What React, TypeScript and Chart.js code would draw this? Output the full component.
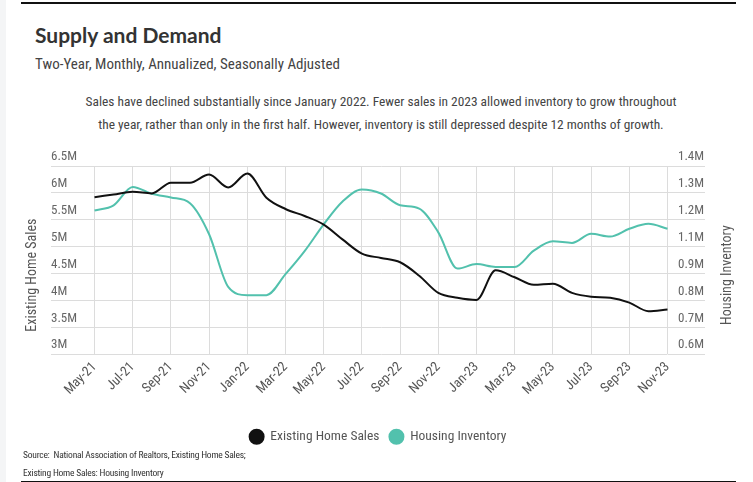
import React, { useEffect, useRef } from 'react';
import { Chart, registerables } from 'chart.js';

Chart.register(...registerables);

const months = ['May-21','Jun-21','Jul-21','Aug-21','Sep-21','Oct-21','Nov-21','Dec-21','Jan-22','Feb-22','Mar-22','Apr-22','May-22','Jun-22','Jul-22','Aug-22','Sep-22','Oct-22','Nov-22','Dec-22','Jan-23','Feb-23','Mar-23','Apr-23','May-23','Jun-23','Jul-23','Aug-23','Sep-23','Oct-23','Nov-23'];
const existingHomeSales = [5.92,5.97,6.02,5.99,6.19,6.19,6.34,6.10,6.36,5.91,5.70,5.57,5.41,5.13,4.87,4.79,4.71,4.46,4.14,4.05,4.01,4.56,4.43,4.29,4.31,4.14,4.07,4.05,3.96,3.80,3.83];
const housingInventory = [1.211,1.233,1.311,1.282,1.266,1.242,1.11,0.886,0.851,0.851,0.94,1.038,1.152,1.25,1.30,1.283,1.233,1.219,1.118,0.964,0.983,0.971,0.971,1.04,1.08,1.073,1.112,1.10,1.133,1.154,1.133];
const leftTickLabels = ['3M','3.5M','4M','4.5M','5M','5.5M','6M','6.5M'];
const rightTickLabels = ['0.6M','0.7M','0.8M','0.9M','1.1M','1.2M','1.3M','1.4M'];
const seriesNames = ['Existing Home Sales', 'Housing Inventory'];
const leftAxisTitle = 'Existing Home Sales';
const rightAxisTitle = 'Housing Inventory';

const FONT = '"Liberation Sans Narrow", "Arial Narrow", "Roboto Condensed", sans-serif';
const GRID = '#dcdcdc';
const BLACK = '#111111';
const TEAL = '#52c1ad';

const axisTitlePlugin = {
  id: 'axisTitles',
  afterDraw(chart: any) {
    const { ctx, chartArea } = chart;
    const cy = (chartArea.top + chartArea.bottom) / 2 + 15;
    ctx.save();
    ctx.font = `14px ${FONT}`;
    ctx.fillStyle = '#555555';
    ctx.textAlign = 'center';
    ctx.textBaseline = 'middle';
    ctx.save();
    ctx.translate(chartArea.left - 62.5, cy);
    ctx.rotate(-Math.PI / 2);
    ctx.fillText(leftAxisTitle, 0, 0);
    ctx.restore();
    ctx.save();
    ctx.translate(chartArea.right + 59.5, cy);
    ctx.rotate(-Math.PI / 2);
    ctx.fillText(rightAxisTitle, 0, 0);
    ctx.restore();
    ctx.restore();
  },
};

function SupplyDemandChart() {
  const ref = useRef<HTMLCanvasElement>(null);
  useEffect(() => {
    if (!ref.current) return;
    const chart = new Chart(ref.current, {
      type: 'line',
      data: {
        labels: months,
        datasets: [
          {
            label: seriesNames[0],
            data: existingHomeSales,
            yAxisID: 'y',
            borderColor: BLACK,
            backgroundColor: BLACK,
            borderWidth: 2,
            pointRadius: 0,
            pointStyle: 'circle',
            cubicInterpolationMode: 'monotone',
          },
          {
            label: seriesNames[1],
            data: housingInventory,
            yAxisID: 'y1',
            borderColor: TEAL,
            backgroundColor: TEAL,
            borderWidth: 2,
            pointRadius: 0,
            pointStyle: 'circle',
            cubicInterpolationMode: 'monotone',
          },
        ],
      },
      options: {
        animation: false,
        responsive: true,
        maintainAspectRatio: false,
        layout: { padding: { left: 51, right: 48, top: 26, bottom: 4.5 } },
        scales: {
          x: {
            type: 'category',
            offset: false,
            grid: {
              color: (c: any) => (c.index % 2 === 0 ? GRID : 'rgba(0,0,0,0)'),
              drawTicks: false,
            },
            border: { display: false },
            ticks: {
              autoSkip: false,
              minRotation: 45,
              maxRotation: 45,
              padding: 5,
              color: '#555555',
              font: { family: FONT, size: 13.5 },
              callback: (_v: any, i: number) => (i % 2 === 0 ? months[i] : ''),
            },
            afterFit: (s: any) => { s.height = 65.8; },
          },
          y: {
            position: 'left',
            min: 3,
            max: 6.5,
            grid: { color: GRID, tickLength: 43.5, drawTicks: true },
            border: { display: false },
            ticks: {
              stepSize: 0.5,
              crossAlign: 'far',
              labelOffset: -9,
              color: '#666666',
              font: { family: FONT, size: 13 },
              callback: (_v: any, i: number) => leftTickLabels[i],
            },
            afterFit: (s: any) => { s.width = 43.5; },
          },
          y1: {
            position: 'right',
            min: 0.6,
            max: 1.4,
            grid: { color: GRID, tickLength: 37.5, drawOnChartArea: false, drawTicks: true },
            border: { display: false },
            ticks: {
              count: 8,
              crossAlign: 'near',
              padding: -27,
              labelOffset: -9,
              color: '#666666',
              font: { family: FONT, size: 13 },
              callback: (_v: any, i: number) => rightTickLabels[i],
            },
            afterFit: (s: any) => { s.width = 37.5; },
          },
        },
        plugins: {
          legend: {
            position: 'bottom',
            labels: {
              usePointStyle: true,
              pointStyle: 'circle',
              boxWidth: 10,
              boxHeight: 10,
              pointStyleWidth: 14,
              padding: 10,
              color: '#555555',
              font: { family: FONT, size: 13.5 },
            },
          },
          tooltip: { enabled: false },
        },
      },
      plugins: [axisTitlePlugin],
    } as any);
    return () => chart.destroy();
  }, []);
  return <canvas ref={ref} />;
}

export default function App() {
  useEffect(() => {
    document.body.style.margin = '0';
    document.body.style.background = '#ffffff';
  }, []);
  const narrow = FONT;
  return (
    <div style={{ position: 'relative', width: 753, height: 482, overflow: 'hidden', background: '#fff', fontFamily: narrow }}>
      <div style={{ position: 'absolute', left: 0, top: 0, width: 6, height: 482, background: '#f4f5f6' }} />
      <div style={{ position: 'absolute', left: 21, top: 2, width: 715, height: 1.5, background: '#111' }} />
      <div style={{ position: 'absolute', left: 35, top: 23, fontFamily: 'Lato, sans-serif', fontWeight: 700, fontSize: 21, lineHeight: '24px', color: '#333', whiteSpace: 'nowrap' }}>
        Supply and Demand
      </div>
      <div style={{ position: 'absolute', left: 35, top: 53.5, fontSize: 15, lineHeight: '20px', color: '#444', whiteSpace: 'nowrap' }}>
        Two-Year, Monthly, Annualized, Seasonally Adjusted
      </div>
      <div style={{ position: 'absolute', left: 71, top: 90, width: 620, textAlign: 'center', fontSize: 13.4, lineHeight: '23px', color: '#444', whiteSpace: 'nowrap' }}>
        Sales have declined substantially since January 2022. Fewer sales in 2023 allowed inventory to grow throughout
        <br />
        the year, rather than only in the first half. However, inventory is still depressed despite 12 months of growth.
      </div>
      <div style={{ position: 'absolute', left: 0, top: 140, width: 753, height: 318 }}>
        <SupplyDemandChart />
      </div>
      <div style={{ position: 'absolute', left: 23, top: 446, fontSize: 9.5, letterSpacing: '-0.22px', lineHeight: '17.7px', color: '#333', whiteSpace: 'nowrap' }}>
        Source:&nbsp; National Association of Realtors, Existing Home Sales;
        <br />
        Existing Home Sales: Housing Inventory
      </div>
      <div style={{ position: 'absolute', left: 21, top: 480.5, width: 715, height: 1.5, background: '#111' }} />
    </div>
  );
}
